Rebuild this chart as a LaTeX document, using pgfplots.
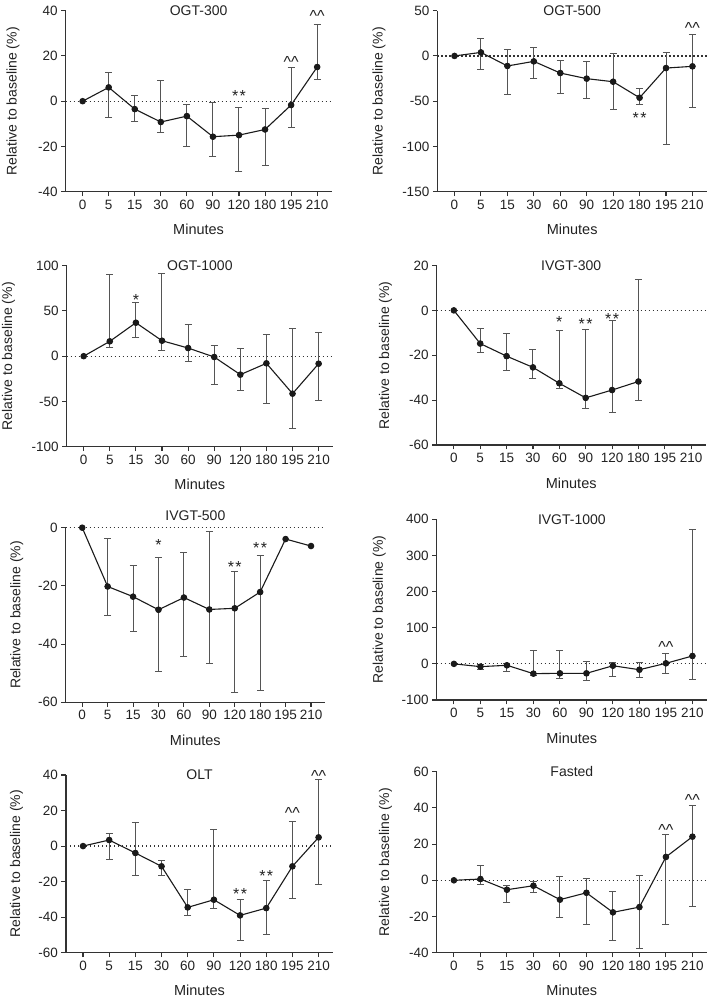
\documentclass[border=0pt]{standalone}
\usepackage{fontspec}
\setmainfont{Liberation Sans}
\usepackage{pgfplots}
\usepackage{pgfplotstable}
\pgfplotsset{compat=1.18}
\definecolor{axcol}{HTML}{333333}
\definecolor{datcol}{HTML}{1A1A1A}
\definecolor{errcol}{HTML}{555555}
\definecolor{txtcol}{HTML}{222222}

\pgfplotstableread{
x y lo hi
0 0 0 0
1 6.1 -7.0 12.7
2 -3.5 -9.1 2.7
3 -9.2 -13.9 9.0
4 -6.6 -20.1 -1.4
5 -15.7 -24.4 -0.5
6 -15.0 -31.2 -2.7
7 -12.5 -28.4 -3.3
8 -1.7 -11.6 14.7
9 15.1 9.6 33.8
}\tOGTa
\pgfplotstableread{
x y lo hi
0 0 0 0
1 3.9 -15.2 19.8
2 -11.1 -42.9 6.9
3 -6.0 -24.8 9.5
4 -18.9 -41.0 -5.2
5 -25.1 -46.9 -6.0
6 -28.5 -58.7 2.9
7 -46.2 -54.2 -36.2
8 -13.4 -98.1 4.0
9 -11.5 -56.9 23.8
}\tOGTb
\pgfplotstableread{
x y lo hi
0 0 0 0
1 16.4 10.1 90.4
2 37.0 20.1 59.1
3 17.1 6.1 91.9
4 9.0 -6.4 35.2
5 -0.9 -31.1 12.3
6 -20.4 -37.4 8.3
7 -7.9 -52.1 23.8
8 -41.4 -79.7 31.1
9 -8.3 -48.8 26.7
}\tOGTc
\pgfplotstableread{
x y lo hi
0 0 0 0
1 -14.8 -18.7 -8.0
2 -20.4 -27.0 -10.2
3 -25.4 -30.3 -17.3
4 -32.5 -34.9 -9.1
5 -39.0 -43.9 -8.4
6 -35.5 -45.4 -4.4
7 -31.7 -40.0 13.6
}\tIVa
\pgfplotstableread{
x y lo hi
0 0 0 0
1 -20.2 -30.2 -3.7
2 -23.7 -35.5 -13.1
3 -28.2 -49.5 -10.1
4 -24.0 -44.4 -8.4
5 -28.1 -46.8 -1.4
6 -27.7 -56.8 -15.2
7 -22.1 -56.1 -9.4
8 -3.9 -3.9 -3.9
9 -6.3 -6.3 -6.3
}\tIVb
\pgfplotstableread{
x y lo hi
0 0 0 0
1 -7.7 -15.0 -2.0
2 -4.0 -20.7 0.5
3 -27.1 -33.6 35.6
4 -26.2 -40.0 35.6
5 -26.2 -45.6 6.1
6 -5.2 -34.5 2.4
7 -16.2 -37.3 2.4
8 1.5 -28.0 30.0
9 21.8 -42.8 372.0
}\tIVc
\pgfplotstableread{
x y lo hi
0 0 0 0
1 3.4 -7.3 7.2
2 -3.9 -16.5 13.4
3 -11.4 -16.5 -8.0
4 -34.5 -39.3 -24.3
5 -30.2 -35.3 9.6
6 -39.0 -53.4 -29.8
7 -34.9 -49.9 -19.5
8 -11.4 -29.3 14.1
9 4.9 -21.9 37.4
}\tOLT
\pgfplotstableread{
x y lo hi
0 0 0 0
1 0.7 -2.4 8.1
2 -5.2 -12.0 -2.6
3 -3.0 -6.5 -0.4
4 -10.7 -20.8 2.0
5 -6.9 -24.5 0.9
6 -17.7 -33.4 -6.1
7 -14.8 -37.8 2.9
8 12.9 -24.4 25.4
9 24.1 -14.4 41.6
}\tFAST

\pgfplotsset{
 panel/.style={
  scale only axis,
  axis lines=left,
  axis line style={-, line width=1.1pt, color=axcol},
  xmin=-0.65, xmax=9.55,
  xtick={0,...,9},
  xticklabels={0,5,15,30,60,90,120,180,195,210},
  tick align=outside,
  major tick length=4.5pt,
  tick style={line width=1.1pt, color=axcol},
  font=\fontsize{13.5}{15}\selectfont,
  /pgf/number format/assume math mode=true,
  clip=false,
  scaled y ticks=false,
  xlabel={Minutes},
  ylabel={Relative to baseline (\%)},
  ticklabel style={text=txtcol},
  title style={at={(axis description cs:0.5,1)}, anchor=center, yshift=-6pt, text=txtcol, font=\fontsize{14}{16}\selectfont},
  xlabel style={at={(axis description cs:0.5,0)}, anchor=center, yshift=-38pt, text=txtcol, font=\fontsize{14.5}{16}\selectfont},
  ylabel style={text=txtcol, font=\fontsize{14}{16}\selectfont},
 },
 zeroline/.style={forget plot, color=axcol, line width=1.2pt, dash pattern=on 1.4pt off 2.6pt},
 lineser/.style={color=datcol, line width=1.1pt, mark=*, mark size=2.7pt, mark options={solid, fill=datcol}},
 errser/.style={only marks, color=datcol, mark=*, mark size=2.7pt, mark options={fill=datcol},
  error bars/y dir=both, error bars/y explicit,
  error bars/error bar style={color=errcol, line width=1pt},
  error bars/error mark options={rotate=90, mark size=3.5pt, color=errcol, line width=1pt}},
 table/errt/.style={x=x, y=y, y error plus expr=\thisrow{hi}-\thisrow{y}, y error minus expr=\thisrow{y}-\thisrow{lo}},
}
\tikzset{
 sig/.style={anchor=base, yshift=-9.2pt, inner sep=0pt, text=txtcol, font=\fontsize{16}{18}\selectfont},
 hat/.style={anchor=base, yshift=-8.5pt, inner sep=0pt, text=txtcol, font=\fontsize{16}{18}\selectfont},
}
\newcommand{\dstar}{*\hspace{1.5pt}*}
\newcommand{\hh}{\textasciicircum\textasciicircum}

\begin{document}
\begin{tikzpicture}
\useasboundingbox (0pt,0pt) rectangle (709pt,1000pt);

% OGT-300
\begin{axis}[panel, at={(65.7pt,808.3pt)}, anchor=south west, width=265.8pt, height=181pt,
  ymin=-40, ymax=40, ytick={-40,-20,...,40}, title={OGT-300},
  ylabel style={at={(axis description cs:-0.198,0.5)}, anchor=center}]
\addplot[zeroline] coordinates {(-0.65,0) (9.55,0)};
\addplot[errser, restrict x to domain=1:9] table[errt] {\tOGTa};
\addplot[lineser] table[x=x, y=y] {\tOGTa};
\node[sig] at (axis cs:6,3.8) {\dstar};
\node[hat] at (axis cs:8,18.5) {\hh};
\node[hat] at (axis cs:9,39.2) {\hh};
\end{axis}

% OGT-500
\begin{axis}[panel, at={(437.3pt,808.3pt)}, anchor=south west, width=269.7pt, height=181pt,
  ymin=-150, ymax=50, ytick={-150,-100,...,50}, title={OGT-500},
  ylabel style={at={(axis description cs:-0.216,0.5)}, anchor=center}]
\addplot[zeroline] coordinates {(-0.65,0) (9.55,0)};
\addplot[errser, restrict x to domain=1:9] table[errt] {\tOGTb};
\addplot[lineser] table[x=x, y=y] {\tOGTb};
\node[sig] at (axis cs:7,-64.6) {\dstar};
\node[hat] at (axis cs:9,34.2) {\hh};
\end{axis}

% OGT-1000
\begin{axis}[panel, at={(66.7pt,553.3pt)}, anchor=south west, width=266.3pt, height=181pt,
  ymin=-100, ymax=100, ytick={-100,-50,...,100}, title={OGT-1000},
  ylabel style={at={(axis description cs:-0.219,0.5)}, anchor=center}]
\addplot[zeroline] coordinates {(-0.65,0) (9.55,0)};
\addplot[errser, restrict x to domain=1:9] table[errt] {\tOGTc};
\addplot[lineser] table[x=x, y=y] {\tOGTc};
\node[sig] at (axis cs:2,66.5) {*};
\end{axis}

% IVGT-300
\begin{axis}[panel, at={(436.7pt,555pt)}, anchor=south west, width=269pt, height=179.5pt,
  ymin=-60, ymax=20, ytick={-60,-40,...,20}, title={IVGT-300},
  ylabel style={at={(axis description cs:-0.19,0.5)}, anchor=center}]
\addplot[zeroline] coordinates {(-0.65,0) (9.55,0)};
\addplot[errser, restrict x to domain=1:9] table[errt] {\tIVa};
\addplot[lineser] table[x=x, y=y] {\tIVa};
\node[sig] at (axis cs:4,-3.5) {*};
\node[sig] at (axis cs:5,-4.5) {\dstar};
\node[sig] at (axis cs:6,-2.2) {\dstar};
\end{axis}

% IVGT-500
\begin{axis}[panel, at={(65.7pt,297.7pt)}, anchor=south west, width=259.3pt, height=174.6pt,
  ymin=-60, ymax=0, ytick={-60,-40,-20,0}, title={IVGT-500},
  title style={yshift=12pt},
  ylabel style={at={(axis description cs:-0.189,0.5)}, anchor=center}]
\addplot[zeroline] coordinates {(-0.65,0) (9.55,0)};
\addplot[errser, restrict x to domain=1:7] table[errt] {\tIVb};
\addplot[lineser] table[x=x, y=y] {\tIVb};
\node[sig] at (axis cs:3,-4.8) {*};
\node[sig] at (axis cs:6,-12.3) {\dstar};
\node[sig] at (axis cs:7,-5.7) {\dstar};
\end{axis}

% IVGT-1000
\begin{axis}[panel, at={(436.7pt,300pt)}, anchor=south west, width=270.3pt, height=180.7pt,
  ymin=-100, ymax=400, ytick={-100,0,...,400}, title={IVGT-1000},
  ylabel style={at={(axis description cs:-0.213,0.5)}, anchor=center}]
\addplot[zeroline] coordinates {(-0.65,0) (9.55,0)};
\addplot[errser, restrict x to domain=1:9] table[errt] {\tIVc};
\addplot[lineser] table[x=x, y=y] {\tIVc};
\node[hat] at (axis cs:8,55) {\hh};
\end{axis}

% OLT
\begin{axis}[panel, at={(66pt,47.3pt)}, anchor=south west, width=267pt, height=177.7pt,
  ymin=-60, ymax=40, ytick={-60,-40,...,40}, title={OLT},
  ylabel style={at={(axis description cs:-0.185,0.5)}, anchor=center}]
\addplot[zeroline] coordinates {(-0.65,0) (9.55,0)};
\addplot[errser, restrict x to domain=1:9] table[errt] {\tOLT};
\addplot[lineser] table[x=x, y=y] {\tOLT};
\node[sig] at (axis cs:6,-24.7) {\dstar};
\node[sig] at (axis cs:7,-14.8) {\dstar};
\node[hat] at (axis cs:8,20.3) {\hh};
\node[hat] at (axis cs:9,41.3) {\hh};
\end{axis}

% Fasted
\begin{axis}[panel, at={(436.7pt,47.3pt)}, anchor=south west, width=270.3pt, height=181pt,
  ymin=-40, ymax=60, ytick={-40,-20,...,60}, title={Fasted},
  ylabel style={at={(axis description cs:-0.189,0.5)}, anchor=center}]
\addplot[zeroline] coordinates {(-0.65,0) (9.55,0)};
\addplot[errser, restrict x to domain=1:9] table[errt] {\tFAST};
\addplot[lineser] table[x=x, y=y] {\tFAST};
\node[hat] at (axis cs:8,29.6) {\hh};
\node[hat] at (axis cs:9,46.2) {\hh};
\end{axis}
\end{tikzpicture}
\end{document}
